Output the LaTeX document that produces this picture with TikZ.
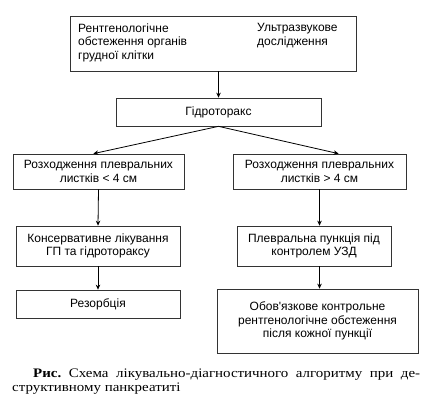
\documentclass[tikz,border=0pt]{standalone}
\usepackage{fontspec}
\setmainfont{Liberation Serif}
\newfontfamily\capfont[FakeStretch=1.15]{Liberation Serif}
\newfontfamily\boxfont{Liberation Sans}
\usetikzlibrary{arrows.meta,calc}
\tikzset{
  stepbox/.style={draw=black!80, line width=0.7pt, inner sep=0pt, align=center,
    font=\boxfont\fontsize{12}{13.5}\selectfont},
  txt/.style={inner sep=0pt, align=left, anchor=north west,
    font=\boxfont\fontsize{12}{13.5}\selectfont},
  conn/.style={line width=0.8pt, -{Stealth[length=5pt,width=4.5pt]}}
}
\begin{document}
\begin{tikzpicture}[x=1pt,y=-1pt]
\useasboundingbox (0,0) rectangle (428,404);
\fill[white] (0,0) rectangle (428,404);
% top box
\node[stepbox, minimum width=286pt, minimum height=55pt] (top) at (213,43.5) {};
\node[txt] (tl) at (78,23.3) {Рентгенологічне\\обстеження органів\\грудної клітки};
\node[txt] (tr) at (257,23.3) {Ультразвукове\\дослідження};
% second
\node[stepbox, minimum width=205pt, minimum height=28pt] (gid) at (218.5,112) {Гідроторакс};
% third row
\node[stepbox, minimum width=171pt, minimum height=35pt] (l1) at (98.5,171.5) {Розходження плевральних\\листків < 4 см};
\node[stepbox, minimum width=173pt, minimum height=35pt] (r1) at (319.5,171.5) {Розходження плевральних\\листків > 4 см};
% fourth row
\node[stepbox, minimum width=164pt, minimum height=40pt] (l2) at (98,246) {Консервативне лікування\\ГП та гідротораксу};
\node[stepbox, minimum width=154pt, minimum height=40pt] (r2) at (314,246) {Плевральна пункція під\\контролем УЗД};
% fifth row
\node[stepbox, minimum width=164pt, minimum height=28pt] (l3) at (98,304) {Резорбція};
\node[stepbox, minimum width=201pt, minimum height=64pt] (r3) at (317.5,321) {Обов'язкове контрольне\\рентгенологічне обстеження\\після кожної пункції};
% connectors
\draw[conn] (gid.north |- top.south) -- (gid.north);
\draw[conn] (gid.south) -- ($(l1.north west)!0.47!(l1.north east)$);
\draw[conn] (gid.south) -- ($(r1.north west)!0.61!(r1.north east)$);
\draw[conn] (l1.south) -- (l2.north);
\draw[conn] (l2.south) -- (l3.north);
\draw[conn] (r1.south) -- (r1.south |- r2.north);
\draw[conn] (r1.south |- r2.south) -- (r1.south |- r3.north);
% caption
\node[inner sep=0pt, anchor=north west, text width=408pt, align=justify,
  font=\capfont\fontsize{13}{13.5}\selectfont\frenchspacing] (cap) at (12,369)
  {\hspace*{21pt}\textbf{Рис.} Схема лікувально-діагностичного алгоритму при де-\linebreak структивному панкреатиті};
\end{tikzpicture}
\end{document}
